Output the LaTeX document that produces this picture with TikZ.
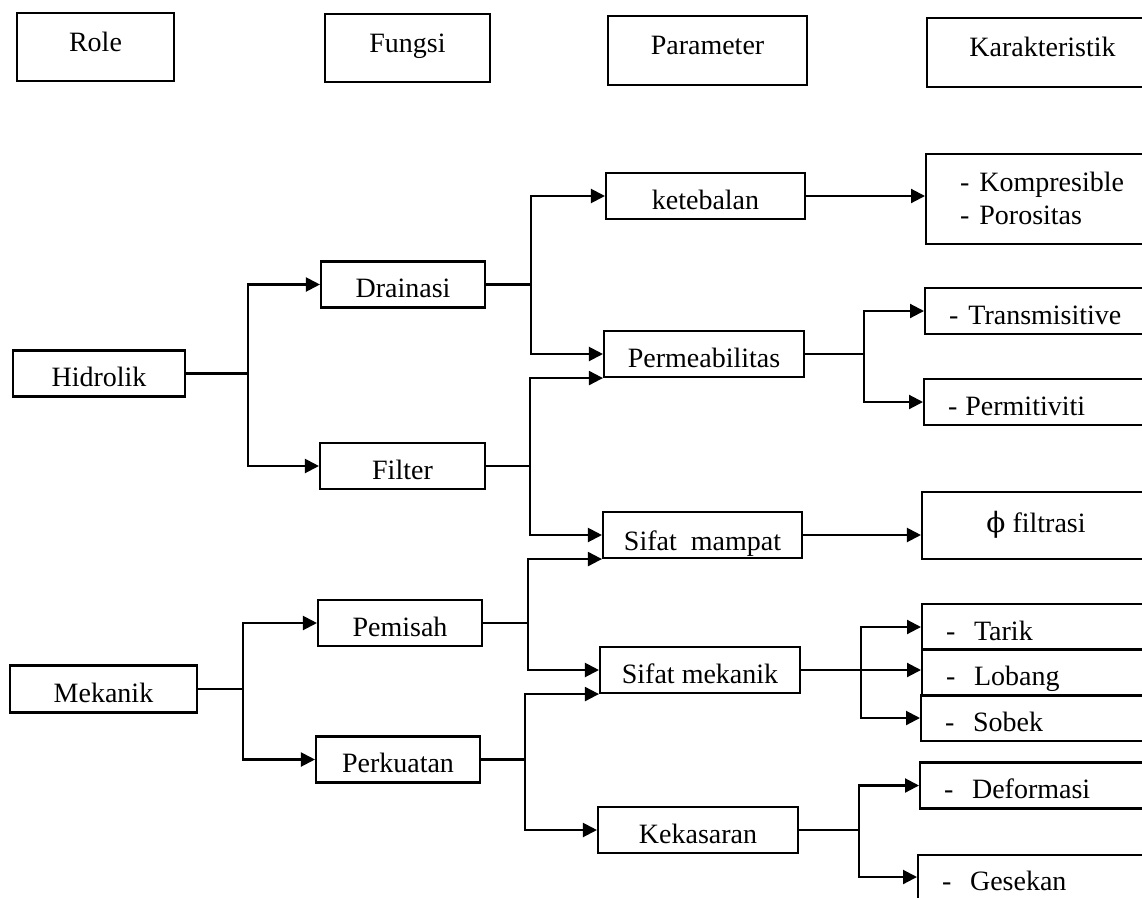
\documentclass[tikz,border=0pt]{standalone}
\usepackage{fontspec}
\setmainfont{Liberation Serif}
\newfontfamily\phifont{DejaVu Serif}
\usetikzlibrary{arrows.meta}
\begin{document}
\begin{tikzpicture}[x=1pt,y=-1pt,
  every node/.style={font=\fontsize{28}{33}\selectfont},
  box/.style={draw, line width=2.1pt, minimum height=46pt, inner sep=0pt,
    text height=26pt, text depth=0pt},
  headbox/.style={box, minimum height=68pt, text height=19pt, text depth=10.5pt},
  listbox/.style={box, anchor=west, inner xsep=24pt, text width=200pt, align=left},
  conn/.style={line width=2.1pt},
  arr/.style={conn, -{Triangle[length=14pt,width=14pt]}}
]
\useasboundingbox (0,0) rectangle (1142,897);
\clip (0,0) rectangle (1142,897);

% column headings
\node[headbox, minimum width=157pt] (role) at (95.5,47) {Role};
\node[headbox, minimum width=165pt] (fungsi) at (407.5,48) {Fungsi};
\node[headbox, minimum width=199pt, minimum height=69pt] (param) at (707.5,50.5) {Parameter};
\node[headbox, minimum width=231pt, minimum height=69pt] (karak) at (1042.5,52.5) {Karakteristik};

% role
\node[box, minimum width=172pt] (hid) at (99,373.5) {Hidrolik};
\node[box, minimum width=187pt, minimum height=47pt] (mek) at (103.5,689) {Mekanik};

% fungsi
\node[box, minimum width=164pt] (drain) at (403,284.5) {Drainasi};
\node[box, minimum width=165pt] (filt) at (402.5,466) {Filter};
\node[box, minimum width=164pt] (pemi) at (400,623) {Pemisah};
\node[box, minimum width=164pt] (perk) at (398,759.5) {Perkuatan};

% parameter
\node[box, minimum width=199pt] (keteb) at (705.5,196) {ketebalan};
\node[box, minimum width=200pt] (perm) at (704,354) {Permeabilitas};
\node[box, minimum width=199pt, text height=30pt] (mamp) at (702.5,535) {Sifat\ \ mampat};
\node[box, minimum width=200pt] (smek) at (700,670) {Sifat mekanik};
\node[box, minimum width=200pt] (kekas) at (698,830) {Kekasaran};

% karakteristik
\node[listbox, minimum height=90pt, inner xsep=34pt, text height=19pt, text depth=33.5pt] (komp) at (925,199)
  {-\hspace{10pt}Kompresible\\-\hspace{10pt}Porositas};
\node[listbox] (trans) at (924,311) {-\hspace{10pt}Transmisitive};
\node[listbox] (permit) at (923,402) {-\hspace{8pt}Permitiviti};
\node[box, minimum width=228pt, minimum height=67pt, text height=19pt, text depth=6pt] (phi) at (1036,525.5)
  {{\phifont ϕ} filtrasi};
\node[listbox] (tarik) at (921,627) {-\ \ Tarik};
\node[listbox] (lob) at (921,672.5) {-\ \ Lobang};
\node[listbox] (sobek) at (920,718) {-\ \ Sobek};
\node[listbox] (deform) at (919,785.5) {-\ \ Deformasi};
\node[listbox, minimum height=44pt] (gesek) at (917,877) {-\ \ Gesekan};

% role -> fungsi
\draw[conn] (hid.east) -- ++(62,0) coordinate (jh);
\draw[arr] (jh) |- (drain.west);
\draw[arr] (jh) |- (filt.west);
\draw[conn] (mek.east) -- ++(45,0) coordinate (jm);
\draw[arr] (jm) |- (pemi.west);
\draw[arr] (jm) |- (perk.west);

% fungsi -> parameter
\draw[conn] (drain.east) -- ++(45,0) coordinate (jd);
\draw[arr] (jd) |- (keteb.west);
\draw[arr] (jd) |- (perm.west);
\draw[conn] (filt.east) -- ++(44,0) coordinate (jf);
\draw[arr] (jf) |- (perm.south west);
\draw[arr] (jf) |- (mamp.west);
\draw[conn] (pemi.east) -- ++(45,0) coordinate (jp);
\draw[arr] (jp) |- (mamp.south west);
\draw[arr] (jp) |- (smek.west);
\draw[conn] (perk.east) -- ++(44,0) coordinate (jk);
\draw[arr] (jk) |- (smek.south west);
\draw[arr] (jk) |- (kekas.west);

% parameter -> karakteristik
\draw[arr] (keteb.east) -- (keteb.east -| komp.west);
\draw[conn] (perm.east) -- ++(59,0) coordinate (jpe);
\draw[arr] (jpe) |- (trans.west);
\draw[arr] (jpe) |- (permit.west);
\draw[arr] (mamp.east) -- (mamp.east -| phi.west);
\draw[conn] (smek.east) -- ++(60,0) coordinate (jsm);
\draw[arr] (jsm) |- (tarik.west);
\draw[arr] (jsm) -- (jsm -| lob.west);
\draw[arr] (jsm) |- (sobek.west);
\draw[conn] (kekas.east) -- ++(60,0) coordinate (jke);
\draw[arr] (jke) |- (deform.west);
\draw[arr] (jke) |- (gesek.west);
\end{tikzpicture}
\end{document}
